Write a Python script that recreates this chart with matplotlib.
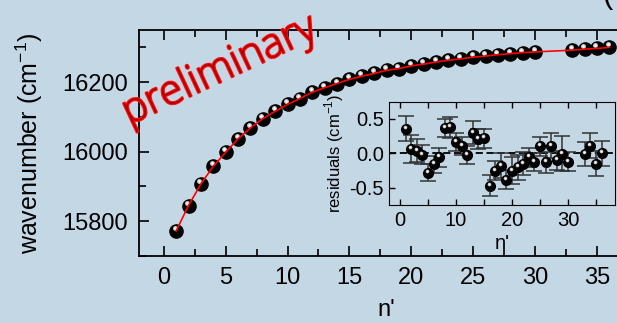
import matplotlib
matplotlib.use("Agg")
import matplotlib.pyplot as plt
import matplotlib.patheffects as pe
from matplotlib.ticker import MultipleLocator
from matplotlib.transforms import offset_copy
import numpy as np

# level positions n' and term energies (cm^-1)
n_main = [1, 2, 3, 4, 5, 6, 7, 8, 9, 10, 11, 12, 13, 14, 15, 16, 17, 18,
          19, 20, 21, 22, 23, 24, 25, 26, 27, 28, 29, 30, 33, 34, 35, 36]
wavenumber = [15772, 15845, 15907, 15958, 15998, 16037, 16068, 16095, 16116,
              16136, 16153, 16171, 16184, 16196, 16208, 16217, 16225, 16234,
              16239, 16247, 16252, 16258, 16263, 16267, 16272, 16275, 16279,
              16282, 16285, 16287, 16292, 16295, 16297, 16300]

# residuals of the fit and their uncertainties
residuals = [0.36, 0.06, 0.04, -0.02, -0.28, -0.16, -0.06, 0.37, 0.38, 0.16,
             0.11, -0.03, 0.30, 0.21, 0.22, -0.47, -0.25, -0.18, -0.38, -0.25,
             -0.20, -0.15, -0.06, -0.13, 0.10, -0.13, 0.11, -0.10, -0.005,
             -0.12, -0.01, 0.11, -0.15, 0.0]
res_err = [0.18, 0.20, 0.17, 0.14, 0.12, 0.12, 0.14, 0.13, 0.15, 0.13,
           0.13, 0.13, 0.17, 0.14, 0.14, 0.15, 0.14, 0.18, 0.14, 0.20,
           0.18, 0.17, 0.14, 0.13, 0.14, 0.15, 0.18, 0.14, 0.25,
           0.14, 0.18, 0.18, 0.18, 0.18]

plt.rcParams['font.family'] = ['Liberation Sans', 'DejaVu Sans']
plt.rcParams['mathtext.fontset'] = 'custom'
plt.rcParams['mathtext.rm'] = 'Liberation Sans'

bg = '#c4d7e5'
fig = plt.figure(figsize=(6.17, 3.23), dpi=100, facecolor=bg)


def spheres(ax, x, y, size, tr_dx, tr_dy, z=3):
    ax.plot(x, y, 'o', ms=size, color='black', mec='black', zorder=z)
    tr = offset_copy(ax.transData, fig=fig, x=tr_dx, y=tr_dy, units='dots')
    ax.plot(x, y, 'o', ms=size * 0.38, color='#bdbdbd', mec='none',
            transform=tr, zorder=z + 0.1)
    ax.plot(x, y, 'o', ms=size * 0.2, color='white', mec='none',
            transform=tr, zorder=z + 0.2)


# main panel
ax = fig.add_axes([0.2253, 0.2074, 0.8023, 0.6997])
ax.set_facecolor('none')
ax.plot(n_main, wavenumber, color='red', lw=1.2, zorder=5)
spheres(ax, n_main, wavenumber, 9.5, -1.5, 3.0)
ax.set_xlim(-2, 38)
ax.set_ylim(15700, 16350)
ax.xaxis.set_major_locator(MultipleLocator(5))
ax.xaxis.set_minor_locator(MultipleLocator(2.5))
ax.yaxis.set_major_locator(MultipleLocator(200))
ax.yaxis.set_minor_locator(MultipleLocator(100))
ax.tick_params(which='both', direction='in', top=True, right=False,
               labelsize=17, width=1.2, pad=8)
ax.tick_params(which='major', length=7)
ax.tick_params(which='minor', length=5)
for s in ax.spines.values():
    s.set_linewidth(1.3)
ax.spines['right'].set_visible(False)
ax.set_xlabel("n'", fontsize=17, labelpad=7)
ax.set_ylabel('wavenumber (cm$^{-1}$)', fontsize=18, labelpad=12)

# inset with residuals
ins = fig.add_axes([0.631, 0.3653, 0.3658, 0.3198])
ins.set_facecolor('none')
ins.axhline(0, color='black', ls='--', lw=1.3, dashes=(4, 2), zorder=2)
ins.errorbar(n_main, residuals, yerr=res_err, fmt='none', ecolor='#333333',
             elinewidth=1.1, capsize=6, capthick=1.1, zorder=3)
spheres(ins, n_main, residuals, 7, -1.0, 2.0, z=4)
ins.set_xlim(-1.9, 38.4)
ins.set_ylim(-0.75, 0.75)
ins.xaxis.set_major_locator(MultipleLocator(10))
ins.xaxis.set_minor_locator(MultipleLocator(5))
ins.yaxis.set_major_locator(MultipleLocator(0.5))
ins.tick_params(which='both', direction='in', top=True, labelsize=14.5,
                width=1.0, pad=4)
ins.tick_params(which='major', length=4)
ins.tick_params(which='minor', length=4)
ins.yaxis.set_major_formatter(matplotlib.ticker.FormatStrFormatter('%.1f'))
ins.set_xlabel("n'", fontsize=14.5, labelpad=3)
ins.set_ylabel('residuals (cm$^{-1}$)', fontsize=12, labelpad=2)

# watermark: dark-red letters with a red outline
fig.text(0.356, 0.782, 'preliminary', family=['Open Sans', 'DejaVu Sans'],
         fontsize=30, fontweight='light', color='#b00000', rotation=25,
         rotation_mode='anchor', ha='center', va='center',
         path_effects=[pe.Stroke(linewidth=1.6, foreground='#ff1010'),
                       pe.Normal()])

# cut-off glyph at the top right corner
fig.text(0.985, 0.97, '(', fontsize=22, color='black', ha='center',
         va='bottom')

fig.savefig('out.png', dpi=100, facecolor=bg)
